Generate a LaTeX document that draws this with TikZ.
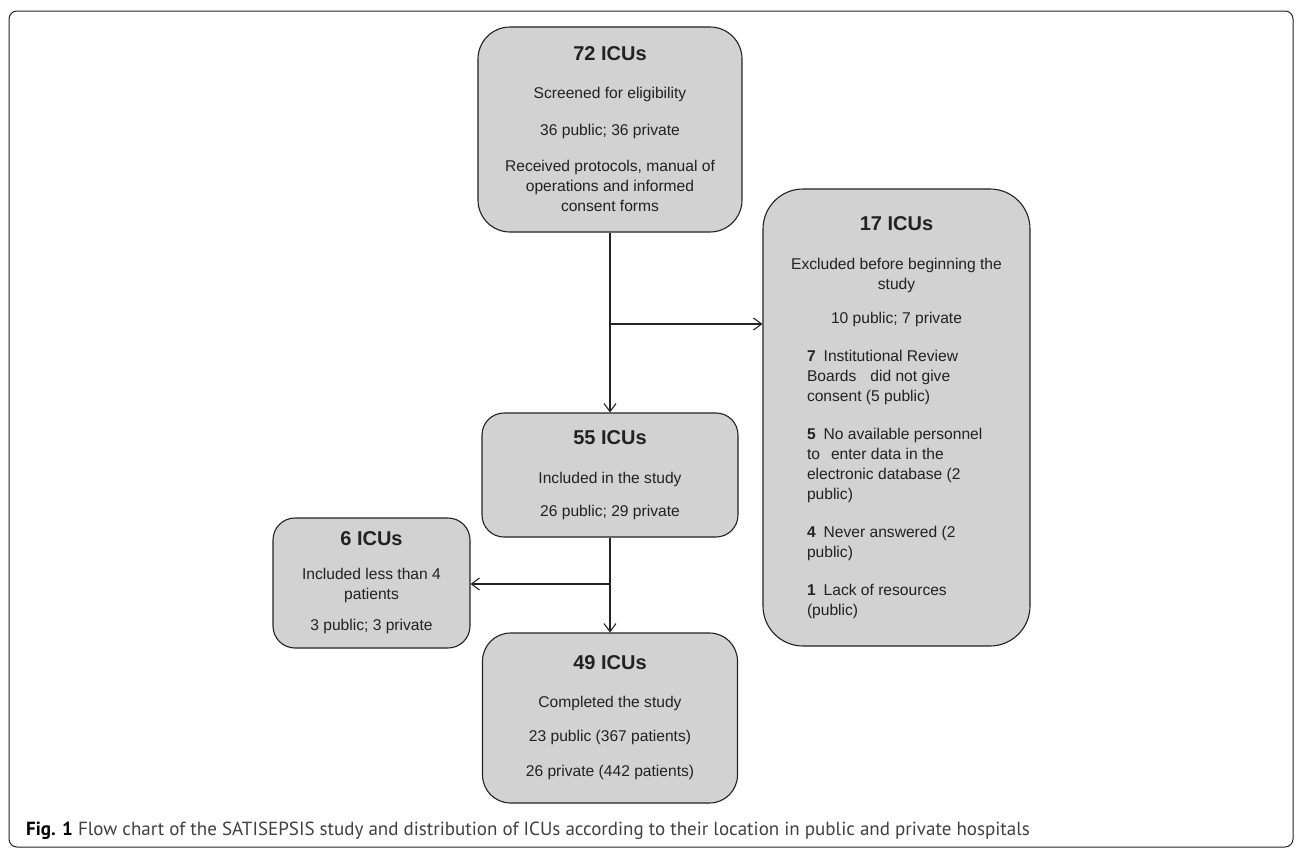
\documentclass[tikz,border=0pt]{standalone}
\usepackage{fontspec}
\setmainfont{Liberation Sans}
\newfontfamily\capfont{PT Sans}
\usepackage{xcolor}
\usetikzlibrary{arrows.meta,positioning,calc}
\definecolor{boxgray}{RGB}{210,210,210}
\definecolor{inkgray}{RGB}{34,34,34}
\definecolor{capgray}{RGB}{64,64,64}
\newcommand{\boxhead}[1]{{\bfseries\fontsize{20}{24}\selectfont #1}}
\newcommand{\reason}[1]{\makebox[179pt][l]{#1}}

\begin{document}
\begin{tikzpicture}[x=1pt, y=-1pt,
    stage/.style={draw=inkgray, fill=boxgray, line width=1.1pt, rounded corners=#1,
      inner sep=0pt, align=center, text=inkgray,
      font=\fontsize{15.6}{20}\selectfont},
    stage/.default=22pt,
    flow/.style={draw=inkgray, line width=1.1pt, -{Straight Barb[length=8pt,width=12pt]}}]
  \useasboundingbox (0,0) rectangle (1296,849);
  \draw[draw=inkgray, line width=1pt, rounded corners=8pt] (9,11) rectangle (1293,847);

  \node[stage=32pt, minimum width=264pt, minimum height=205pt] (screened) at (610,129.5)
    {\boxhead{72 ICUs}\\[18pt]
     Screened for eligibility\\[17pt]
     36 public; 36 private\\[16pt]
     Received protocols, manual of\\
     operations and informed\\
     consent forms};
  \node[stage=40pt, minimum width=267pt, minimum height=457pt] (excluded) at (896.5,417.5)
    {\boxhead{17 ICUs}\\[19pt]
     Excluded before beginning the\\
     study\\[14pt]
     10 public; 7 private\\[18pt]
     \reason{\textbf{7}\hspace{8pt}Institutional Review}\\
     \reason{Boards\hspace{14pt}did not give}\\
     \reason{consent (5 public)}\\[18pt]
     \reason{\textbf{5}\hspace{8pt}No available personnel}\\
     \reason{to\hspace{11pt}enter data in the}\\
     \reason{electronic database (2}\\
     \reason{public)}\\[18pt]
     \reason{\textbf{4}\hspace{8pt}Never answered (2}\\
     \reason{public)}\\[18pt]
     \reason{\textbf{1}\hspace{8pt}Lack of resources}\\
     \reason{(public)}};
  \node[stage, minimum width=256pt, minimum height=124pt] (included) at (610,475)
    {\boxhead{55 ICUs}\\[19pt]
     Included in the study\\[13pt]
     26 public; 29 private};
  \node[stage, minimum width=197pt, minimum height=130pt] (fewpat) at (371.5,583)
    {\boxhead{6 ICUs}\\[14pt]
     Included less than 4\\
     patients\\[11pt]
     3 public; 3 private};
  \node[stage=28pt, minimum width=255pt, minimum height=170pt] (completed) at (610,718)
    {\boxhead{49 ICUs}\\[18pt]
     Completed the study\\[14pt]
     23 public (367 patients)\\[15pt]
     26 private (442 patients)};

  \coordinate (split1) at (610,324);
  \coordinate (split2) at (610,584);
  \draw[flow] (screened.south) -- (included.north);
  \draw[flow] (split1) -- (split1 -| excluded.west);
  \draw[flow] (included.south) -- (completed.north);
  \draw[flow] (split2) -- (split2 -| fewpat.east);

  \node[anchor=base west, inner sep=0pt, text=capgray, font=\capfont\fontsize{19}{23}\selectfont] (caption) at (26,835)
    {\textbf{\color{black}Fig. 1} Flow chart of the SATISEPSIS study and distribution of ICUs according to their location in public and private hospitals};
\end{tikzpicture}
\end{document}
